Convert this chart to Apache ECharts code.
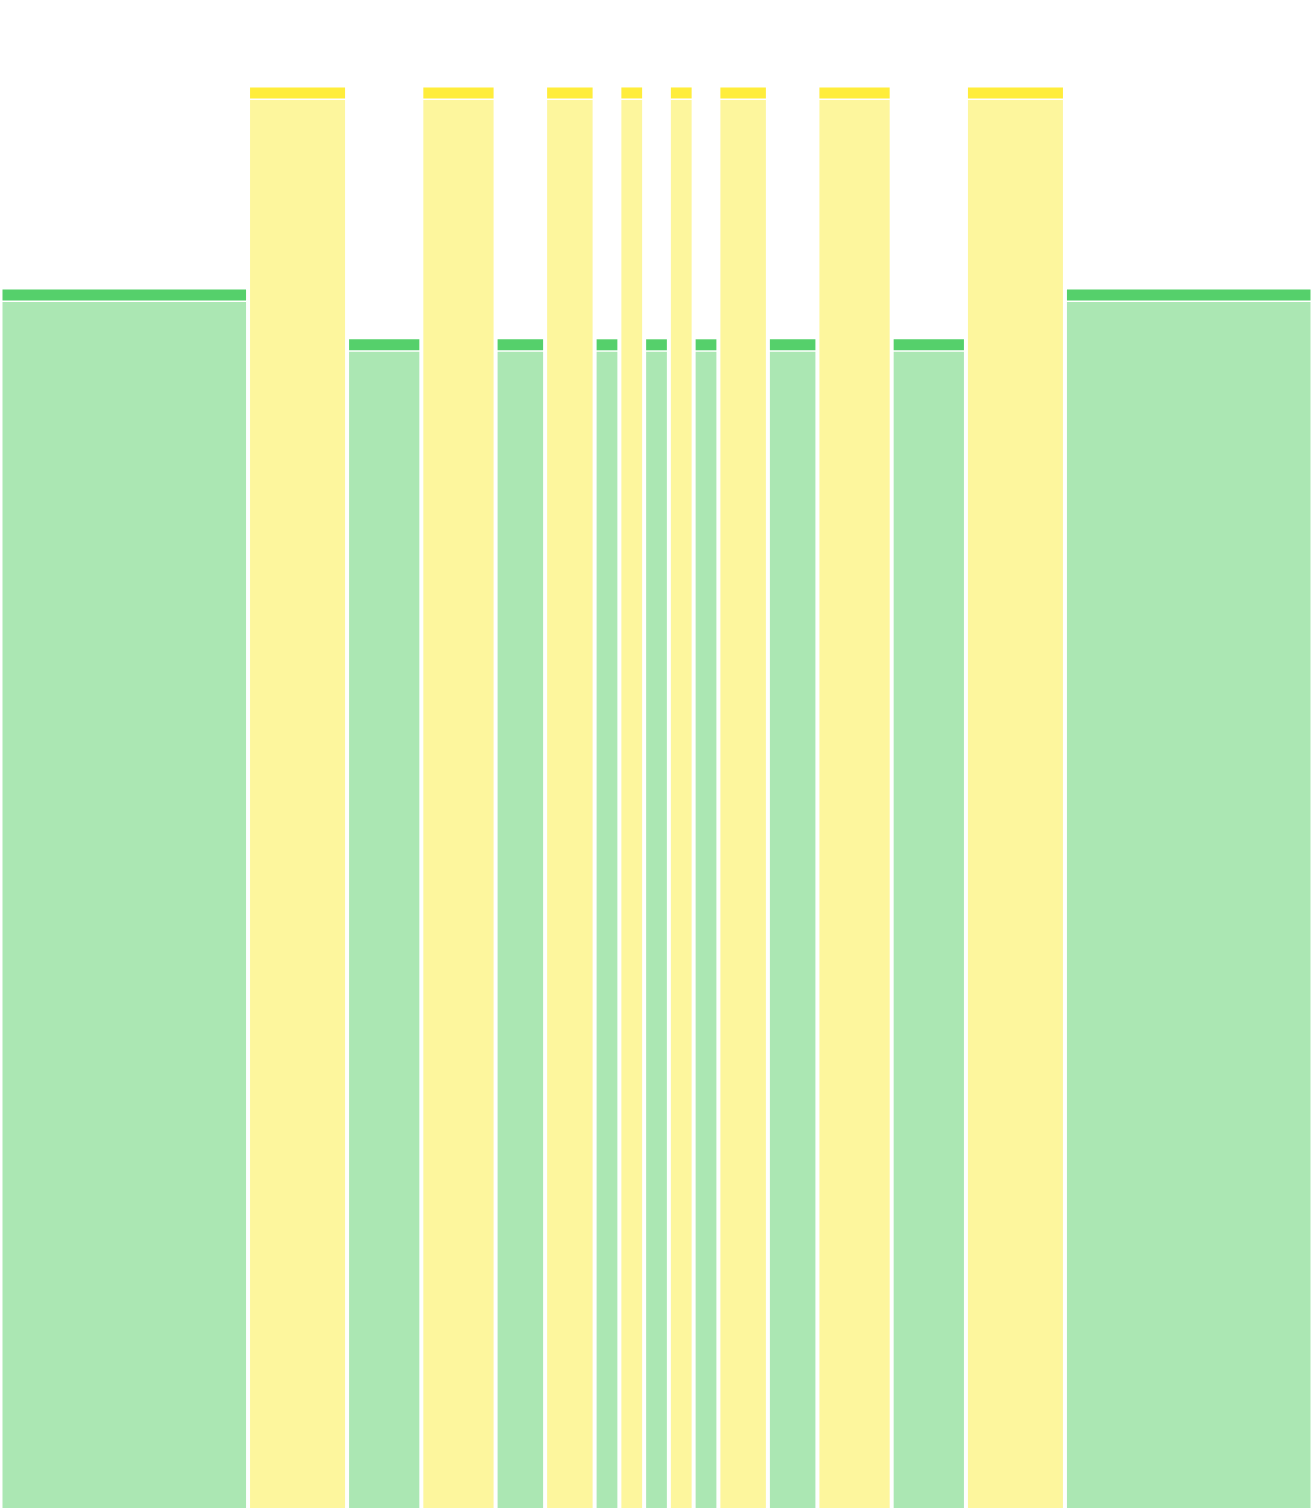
<!DOCTYPE html>
<html>
<head>
<meta charset="utf-8">
<script src="https://cdn.jsdelivr.net/npm/echarts@6/dist/echarts.min.js"></script>
<style>
  html, body { margin: 0; padding: 0; background: #fff; }
  #chart { width: 1312px; height: 1508px; }
</style>
</head>
<body>
<div id="chart"></div>
<script>
// column widths (units) and heights, left to right
const widths = [10, 4, 3, 3, 2, 2, 1, 1, 1, 1, 1, 2, 2, 3, 3, 4, 10];
const values = [80.8, 94.2, 77.5, 94.2, 77.5, 94.2, 77.5, 94.2, 77.5, 94.2, 77.5, 94.2, 77.5, 94.2, 77.5, 94.2, 80.8];
const kinds = ['green', 'yellow', 'green', 'yellow', 'green', 'yellow', 'green', 'yellow', 'green',
  'yellow', 'green', 'yellow', 'green', 'yellow', 'green', 'yellow', 'green'];

const capColor = { green: '#55d06b', yellow: '#ffed3b' };
const bodyColor = { green: '#abe7b3', yellow: '#fdf69d' };

let total = 0;
const data = widths.map(function (w, i) {
  const start = total;
  total += w;
  return [start, total, values[i], i];
});

const chart = echarts.init(document.getElementById('chart'));

chart.setOption({
  animation: false,
  grid: { left: 0, right: 0, top: 0, bottom: 0 },
  xAxis: { type: 'value', min: 0, max: total, show: false },
  yAxis: { type: 'value', min: 0, max: 100, show: false },
  series: [{
    type: 'custom',
    data: data,
    encode: { x: [0, 1], y: 2 },
    renderItem: function (params, api) {
      const topLeft = api.coord([api.value(0), api.value(2)]);
      const bottomRight = api.coord([api.value(1), 0]);
      const kind = kinds[api.value(3)];
      const x0 = topLeft[0] + 2.5;
      const x1 = bottomRight[0] - 1.5;
      const top = topLeft[1];
      const bottom = bottomRight[1];
      return {
        type: 'group',
        children: [{
          type: 'rect',
          shape: { x: x0, y: top, width: x1 - x0, height: 11 },
          style: { fill: capColor[kind] }
        }, {
          type: 'rect',
          shape: { x: x0, y: top + 12.5, width: x1 - x0, height: bottom - top - 12.5 },
          style: { fill: bodyColor[kind] }
        }]
      };
    }
  }]
});

window.onresize = function () { chart.resize(); };
</script>
</body>
</html>
